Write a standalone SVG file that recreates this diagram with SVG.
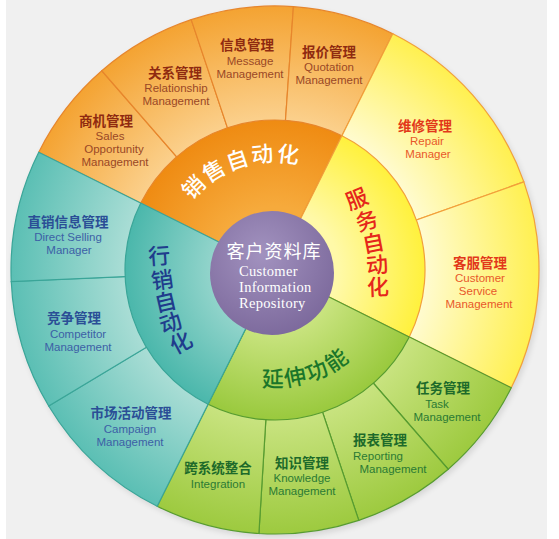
<svg xmlns="http://www.w3.org/2000/svg" width="559" height="539" viewBox="0 0 559 539">
<defs>
<style>
.cn{font-family:"Noto Sans CJK SC","Noto Sans CJK TC",sans-serif;font-weight:700;font-size:13.5px;text-anchor:middle}
.en{font-family:"Liberation Sans",Arial,sans-serif;font-size:11.5px;text-anchor:middle}
.big{font-family:"Noto Sans CJK SC",sans-serif;font-size:22px;font-weight:500}
.vc{font-family:"Noto Sans CJK SC",sans-serif;font-size:22px;font-weight:500;text-anchor:middle;dominant-baseline:central}
.ctr{fill:#ffffff;font-family:"Liberation Serif",serif;font-size:14.5px;letter-spacing:0.3px}
.sal .cn{fill:#8f2a10}.sal .en{fill:#9a4826}
.ser .cn{fill:#e2381a}.ser .en{fill:#e8582a}
.ext .cn{fill:#1d6a2a}.ext .en{fill:#2b7a34}
.mkt .cn{fill:#2a4e96}.mkt .en{fill:#3c60a6}
.sal path{stroke:#e7862c;stroke-width:1.2}
.ser path{stroke:#f2a03a;stroke-width:1.2}
.ext path{stroke:#579c30;stroke-width:1.2}
.mkt path{stroke:#3aa598;stroke-width:1.2}
</style>
<radialGradient id="gSo" gradientUnits="userSpaceOnUse" cx="275" cy="270" r="264"><stop offset="0.57" stop-color="#fbd08c"/><stop offset="1" stop-color="#f4a332"/></radialGradient>
<radialGradient id="gVo" gradientUnits="userSpaceOnUse" cx="275" cy="270" r="264"><stop offset="0.57" stop-color="#fffbcf"/><stop offset="1" stop-color="#fff050"/></radialGradient>
<radialGradient id="gEo" gradientUnits="userSpaceOnUse" cx="275" cy="270" r="264"><stop offset="0.57" stop-color="#c8e37f"/><stop offset="1" stop-color="#9dca3f"/></radialGradient>
<radialGradient id="gMo" gradientUnits="userSpaceOnUse" cx="275" cy="270" r="264"><stop offset="0.57" stop-color="#a9ddd5"/><stop offset="1" stop-color="#5bbfb4"/></radialGradient>
<radialGradient id="gSi" gradientUnits="userSpaceOnUse" cx="275" cy="270" r="264"><stop offset="0.24" stop-color="#f6aa3c"/><stop offset="0.57" stop-color="#ef8b12"/></radialGradient>
<radialGradient id="gVi" gradientUnits="userSpaceOnUse" cx="275" cy="270" r="264"><stop offset="0.24" stop-color="#fff9a8"/><stop offset="0.57" stop-color="#fff13c"/></radialGradient>
<radialGradient id="gEi" gradientUnits="userSpaceOnUse" cx="275" cy="270" r="264"><stop offset="0.24" stop-color="#c8e37e"/><stop offset="0.57" stop-color="#99c93d"/></radialGradient>
<radialGradient id="gMi" gradientUnits="userSpaceOnUse" cx="275" cy="270" r="264"><stop offset="0.24" stop-color="#92d4cb"/><stop offset="0.57" stop-color="#4ab7ab"/></radialGradient>
<radialGradient id="gC" cx="0.42" cy="0.35" r="0.7"><stop offset="0" stop-color="#a292bf"/><stop offset="1" stop-color="#7b689b"/></radialGradient>
<filter id="sh" x="-10%" y="-10%" width="120%" height="120%"><feGaussianBlur stdDeviation="3"/></filter>
<path id="arcS" d="M178.35 221.81 A107 107 0 0 1 323.19 173.35"/>
<path id="arcE" d="M220.07 373.30 A117 117 0 0 0 378.30 324.93"/>
</defs>
<rect x="0" y="0" width="559" height="539" fill="#ffffff"/>
<rect x="6" y="0" width="541" height="539" fill="#f0f0f0"/>
<circle cx="277" cy="273" r="264" fill="#000" opacity="0.12" filter="url(#sh)"/>

<g id="sales-opportunity" class="sal">
<path d="M275 270 L38.75 152.20 A264 264 0 0 1 101.79 70.76 Z" fill="url(#gSo)"/>
<text class="cn" x="106" y="125.5">商机管理</text>
<text class="en" x="110" y="140">Sales</text>
<text class="en" x="114" y="153">Opportunity</text>
<text class="en" x="115" y="166">Management</text>
</g>
<g id="relationship" class="sal">
<path d="M275 270 L101.79 70.76 A264 264 0 0 1 191.23 19.65 Z" fill="url(#gSo)"/>
<text class="cn" x="175" y="77.5">关系管理</text>
<text class="en" x="176" y="92">Relationship</text>
<text class="en" x="176" y="105">Management</text>
</g>
<g id="message" class="sal">
<path d="M275 270 L191.23 19.65 A264 264 0 0 1 293.43 6.63 Z" fill="url(#gSo)"/>
<text class="cn" x="247" y="50">信息管理</text>
<text class="en" x="250" y="64.5">Message</text>
<text class="en" x="250" y="77.5">Management</text>
</g>
<g id="quotation" class="sal">
<path d="M275 270 L293.43 6.63 A264 264 0 0 1 392.80 33.75 Z" fill="url(#gSo)"/>
<text class="cn" x="329" y="56.5">报价管理</text>
<text class="en" x="329" y="71">Quotation</text>
<text class="en" x="329" y="84">Management</text>
</g>

<g id="repair" class="ser">
<path d="M275 270 L392.80 33.75 A264 264 0 0 1 523.85 181.88 Z" fill="url(#gVo)"/>
<text class="cn" x="425" y="130.5">维修管理</text>
<text class="en" x="427" y="145">Repair</text>
<text class="en" x="428" y="158">Manager</text>
</g>
<g id="customer-service" class="ser">
<path d="M275 270 L523.85 181.88 A264 264 0 0 1 511.25 387.80 Z" fill="url(#gVo)"/>
<text class="cn" x="480" y="267.5">客服管理</text>
<text class="en" x="480" y="282">Customer</text>
<text class="en" x="478" y="295">Service</text>
<text class="en" x="479" y="308">Management</text>
</g>

<g id="task" class="ext">
<path d="M275 270 L511.25 387.80 A264 264 0 0 1 448.21 469.24 Z" fill="url(#gEo)"/>
<text class="cn" x="443" y="393">任务管理</text>
<text class="en" x="437" y="407.5">Task</text>
<text class="en" x="447" y="420.5">Management</text>
</g>
<g id="reporting" class="ext">
<path d="M275 270 L448.21 469.24 A264 264 0 0 1 358.77 520.35 Z" fill="url(#gEo)"/>
<text class="cn" x="380" y="445">报表管理</text>
<text class="en" x="378" y="459.5">Reporting</text>
<text class="en" x="393" y="472.5">Management</text>
</g>
<g id="knowledge" class="ext">
<path d="M275 270 L358.77 520.35 A264 264 0 0 1 258.90 533.50 Z" fill="url(#gEo)"/>
<text class="cn" x="302" y="467.5">知识管理</text>
<text class="en" x="302" y="482">Knowledge</text>
<text class="en" x="302" y="495">Management</text>
</g>
<g id="integration" class="ext">
<path d="M275 270 L258.90 533.50 A264 264 0 0 1 157.20 506.25 Z" fill="url(#gEo)"/>
<text class="cn" x="218" y="473">跨系统整合</text>
<text class="en" x="218" y="487.5">Integration</text>
</g>

<g id="campaign" class="mkt">
<path d="M275 270 L157.20 506.25 A264 264 0 0 1 48.71 405.97 Z" fill="url(#gMo)"/>
<text class="cn" x="131" y="418">市场活动管理</text>
<text class="en" x="130" y="432.5">Campaign</text>
<text class="en" x="130" y="445.5">Management</text>
</g>
<g id="competitor" class="mkt">
<path d="M275 270 L48.71 405.97 A264 264 0 0 1 11.26 281.51 Z" fill="url(#gMo)"/>
<text class="cn" x="74" y="323">竞争管理</text>
<text class="en" x="78" y="337.5">Competitor</text>
<text class="en" x="78" y="350.5">Management</text>
</g>
<g id="direct-selling" class="mkt">
<path d="M275 270 L11.26 281.51 A264 264 0 0 1 38.75 152.20 Z" fill="url(#gMo)"/>
<text class="cn" x="68" y="226.5">直销信息管理</text>
<text class="en" x="68" y="241">Direct Selling</text>
<text class="en" x="69" y="254">Manager</text>
</g>

<g id="sales-automation" class="sal">
<path d="M275 270 L140.76 203.07 A150 150 0 0 1 341.93 135.76 Z" fill="url(#gSi)"/>
<text class="big" fill="#ffffff" letter-spacing="2"><textPath href="#arcS" startOffset="50%" text-anchor="middle">销售自动化</textPath></text>
</g>
<g id="service-automation" class="ser">
<path d="M275 270 L341.93 135.76 A150 150 0 0 1 409.24 336.93 Z" fill="url(#gVi)"/>
<g fill="#e5261b">
<text class="vc" x="356" y="197" transform="rotate(-22 356 197)">服</text>
<text class="vc" x="366" y="219" transform="rotate(-17 366 219)">务</text>
<text class="vc" x="373" y="241" transform="rotate(-11 373 241)">自</text>
<text class="vc" x="377" y="263" transform="rotate(-6 377 263)">动</text>
<text class="vc" x="378" y="285" transform="rotate(-2 378 285)">化</text>
</g>
</g>
<g id="extension" class="ext">
<path d="M275 270 L409.24 336.93 A150 150 0 0 1 208.07 404.24 Z" fill="url(#gEi)"/>
<text class="big" fill="#1b762a" font-size="23" letter-spacing="2"><textPath href="#arcE" startOffset="50%" text-anchor="middle">延伸功能</textPath></text>
</g>
<g id="marketing-automation" class="mkt">
<path d="M275 270 L208.07 404.24 A150 150 0 0 1 140.76 203.07 Z" fill="url(#gMi)"/>
<g fill="#1f3c8c">
<text class="vc" x="159" y="254" transform="rotate(-4 159 254)">行</text>
<text class="vc" x="162" y="278" transform="rotate(-8 162 278)">销</text>
<text class="vc" x="165" y="300" transform="rotate(-13 165 300)">自</text>
<text class="vc" x="170" y="321" transform="rotate(-19 170 321)">动</text>
<text class="vc" x="180" y="341" transform="rotate(-28 180 341)">化</text>
</g>
</g>

<g id="customer-repository">
<circle cx="272" cy="273" r="62" fill="url(#gC)"/>
<text x="274" y="257.5" fill="#ffffff" font-family="Noto Sans CJK SC, sans-serif" font-size="18" text-anchor="middle" letter-spacing="1">客户资料库</text>
<text class="ctr" x="239" y="276">Customer</text>
<text class="ctr" x="239" y="292.2">Information</text>
<text class="ctr" x="239" y="308.4">Repository</text>
</g>
</svg>
